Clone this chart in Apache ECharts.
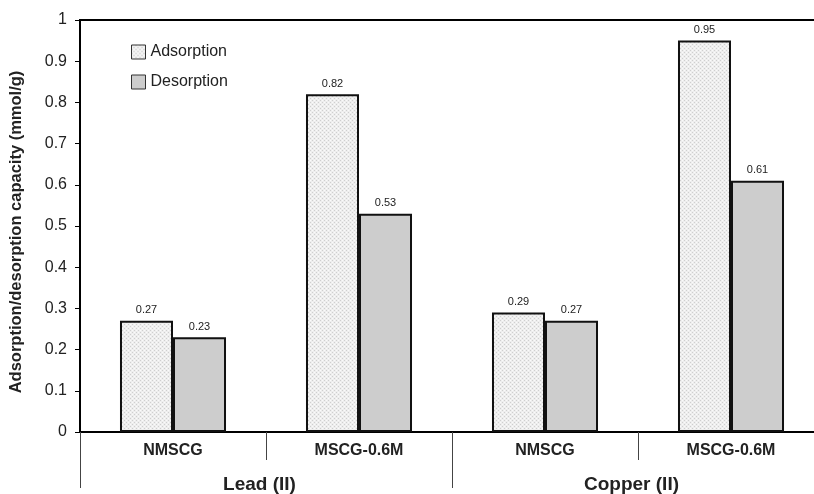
<!DOCTYPE html>
<html>
<head>
<meta charset="utf-8">
<script src="https://cdn.jsdelivr.net/npm/echarts@6/dist/echarts.min.js"></script>
<style>html,body{margin:0;padding:0;background:#fff}#c{width:814px;height:494px}</style>
</head>
<body>
<div id="c"></div>
<script>
const categories = ['NMSCG', 'MSCG-0.6M', 'NMSCG', 'MSCG-0.6M'];
const groups = ['Lead (II)', 'Copper (II)'];
const adsorption = [0.27, 0.82, 0.29, 0.95];
const desorption = [0.23, 0.53, 0.27, 0.61];
const seriesNames = ['Adsorption', 'Desorption'];
const yTicks = { min: 0, max: 1, interval: 0.1 };

const pc = document.createElement('canvas');
pc.width = 4; pc.height = 4;
const px = pc.getContext('2d');
px.fillStyle = '#eeeeee'; px.fillRect(0, 0, 4, 4);
px.fillStyle = '#cfcfcf';
px.fillRect(0, 0, 1, 1); px.fillRect(2, 2, 1, 1);
px.fillStyle = '#fafafa';
px.fillRect(2, 0, 1, 1); px.fillRect(0, 2, 1, 1);

const FONT = '"Liberation Sans", Arial, sans-serif';
const chart = echarts.init(document.getElementById('c'), null, { renderer: 'canvas' });
chart.setOption({
  animation: false,
  backgroundColor: '#fff',
  textStyle: { fontFamily: FONT },
  grid: { left: 80, top: 20, right: -10, bottom: 62, outerBoundsMode: 'none', containLabel: false, show: true, borderColor: '#000', borderWidth: 2, backgroundColor: '#fff' },
  legend: {
    orient: 'vertical', left: 126, top: 39, itemWidth: 14, itemHeight: 14, itemGap: 14, icon: 'rect',
    textStyle: { fontSize: 16, color: '#222', fontFamily: FONT },
    itemStyle: { borderWidth: 1, borderColor: '#333' },
    data: seriesNames
  },
  xAxis: [
    {
      type: 'category', data: categories, position: 'bottom',
      axisLine: { lineStyle: { color: '#000', width: 2 } },
      axisTick: { show: true, interval: 0, length: 28, lineStyle: { color: '#444', width: 1 } },
      axisLabel: { interval: 0, margin: 11, fontSize: 16, fontWeight: 'bold', color: '#222', fontFamily: FONT }
    },
    {
      type: 'category', data: groups, position: 'bottom', gridIndex: 0,
      axisLine: { show: false },
      axisTick: { show: true, interval: 0, length: 56, lineStyle: { color: '#444', width: 1 } },
      axisLabel: { interval: 0, margin: 43, fontSize: 19, fontWeight: 'bold', color: '#222', fontFamily: FONT, padding: [0, 13, 0, 0] }
    }
  ],
  yAxis: {
    type: 'value', min: yTicks.min, max: yTicks.max, interval: yTicks.interval,
    name: 'Adsorption/desorption capacity (mmol/g)', nameLocation: 'middle', nameGap: 55,
    nameTextStyle: { fontSize: 16.5, fontWeight: 'bold', color: '#222', fontFamily: FONT, padding: [0, 12, 0, 0] },
    axisLine: { show: true, lineStyle: { color: '#000', width: 2 } },
    axisTick: { show: true, length: 5, lineStyle: { color: '#000' } },
    splitLine: { show: false },
    axisLabel: { margin: 13, fontSize: 16, color: '#222', fontFamily: FONT, formatter: v => String(Math.round(v * 10) / 10) }
  },
  series: [
    {
      name: seriesNames[0], type: 'bar', data: adsorption, xAxisIndex: 0,
      barGap: '0%', barCategoryGap: '43%',
      itemStyle: { color: { image: pc, repeat: 'repeat' }, borderColor: '#111', borderWidth: 2 },
      label: { show: true, position: 'top', distance: 5, fontSize: 11, color: '#222', fontFamily: FONT, formatter: p => p.value.toFixed(2) }
    },
    {
      name: seriesNames[1], type: 'bar', data: desorption, xAxisIndex: 0,
      barGap: '0%', barCategoryGap: '43%',
      itemStyle: { color: '#cdcdcd', borderColor: '#111', borderWidth: 2 },
      label: { show: true, position: 'top', distance: 5, fontSize: 11, color: '#222', fontFamily: FONT, formatter: p => p.value.toFixed(2) }
    }
  ]
});
</script>
</body>
</html>
